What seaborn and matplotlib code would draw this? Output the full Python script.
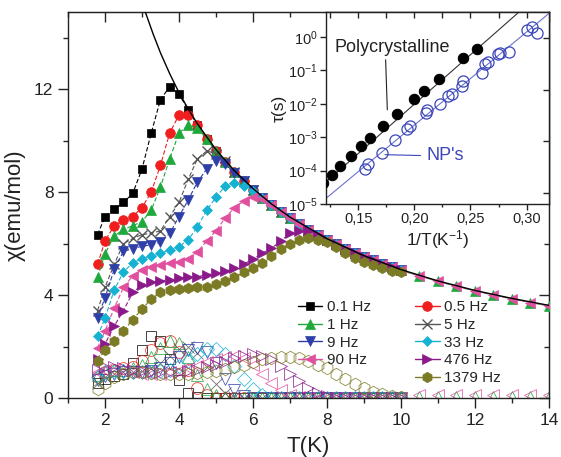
import matplotlib
matplotlib.use("Agg")
import matplotlib.pyplot as plt
import seaborn as sns
import numpy as np
from matplotlib.lines import Line2D
from matplotlib.ticker import MultipleLocator, FixedLocator, NullFormatter, LogLocator

sns.set_style("ticks")
plt.rcParams['font.family'] = ['Liberation Sans', 'DejaVu Sans']
plt.rcParams['mathtext.fontset'] = 'custom'
plt.rcParams['mathtext.rm'] = 'Liberation Sans'
plt.rcParams['mathtext.it'] = 'Liberation Sans:italic'

# ---------------- data ----------------
freq_labels = ["0.1 Hz", "0.5 Hz", "1 Hz", "5 Hz", "9 Hz", "33 Hz", "90 Hz", "476 Hz", "1379 Hz"]

T_common = [1.8, 2.0, 2.25, 2.5, 2.75, 3.0, 3.25, 3.5, 3.75, 4.0, 4.25, 4.5, 4.75, 5.0, 5.25, 5.5,
            5.75, 6.0, 6.25, 6.5, 6.75, 7.0, 7.25, 7.5, 7.75, 8.0, 8.25, 8.5, 8.75, 9.0, 9.25, 9.5,
            9.75, 10.0]
T_ext = [1.8, 2.0, 2.25, 2.5, 2.75, 3.0, 3.25, 3.5, 3.75, 4.0, 4.25, 4.5, 4.75, 5.0, 5.25, 5.5,
         5.75, 6.0, 6.25, 6.5, 6.75, 7.0, 7.25, 7.5, 7.75, 8.0, 8.25, 8.5, 8.75, 9.0, 9.25, 9.5,
         9.75, 10.0, 10.5, 11.0, 11.5, 12.0, 12.5, 13.0, 13.5, 14.0]

# chi' (in-phase), filled symbols
chi1_01 = [6.35, 7.05, 7.35, 7.6, 7.95, 8.9, 10.3, 11.6, 12.1, 11.8, 11.2, 10.6, 10.08, 9.6, 9.18, 8.78,
           8.42, 8.09, 7.78, 7.5, 7.24, 6.99, 6.76, 6.54, 6.34, 6.15, 5.97, 5.8, 5.64, 5.49, 5.35, 5.22,
           5.09, 4.96]
chi1_05 = [5.2, 6.1, 6.7, 6.9, 7.05, 7.4, 8.0, 9.05, 10.3, 11.0, 11.0, 10.6, 10.08, 9.6, 9.18, 8.78,
           8.42, 8.09, 7.78, 7.5, 7.24, 6.99, 6.76, 6.54, 6.34, 6.15, 5.97, 5.8, 5.64, 5.49, 5.35, 5.22,
           5.09, 4.96]
chi1_1 = [4.7, 5.6, 6.3, 6.55, 6.7, 6.85, 7.3, 8.2, 9.3, 10.3, 10.6, 10.5, 10.05, 9.6, 9.18, 8.78,
          8.42, 8.09, 7.78, 7.5, 7.24, 6.99, 6.76, 6.54, 6.34, 6.15, 5.97, 5.8, 5.64, 5.49, 5.35, 5.22,
          5.09, 4.96, 4.74, 4.53, 4.34, 4.16, 4.0, 3.85, 3.71, 3.58]
chi1_5 = [3.4, 4.3, 5.2, 6.0, 6.2, 6.35, 6.4, 6.5, 7.05, 7.6, 8.5, 9.3, 9.6, 9.5, 9.2, 8.78,
          8.42, 8.09, 7.78, 7.5, 7.24, 6.99, 6.76, 6.54, 6.34, 6.15, 5.97, 5.8, 5.64, 5.49, 5.35, 5.22,
          5.09, 4.96]
chi1_9 = [3.1, 3.9, 5.0, 5.7, 5.8, 5.9, 5.95, 6.05, 6.4, 7.05, 7.7, 8.4, 8.9, 9.2, 9.1, 8.75,
          8.42, 8.09, 7.78, 7.5, 7.24, 6.99, 6.76, 6.54, 6.34, 6.15, 5.97, 5.8, 5.64, 5.49, 5.35, 5.22,
          5.09, 4.96]
chi1_33 = [2.4, 3.1, 4.2, 4.9, 5.25, 5.42, 5.5, 5.62, 5.75, 5.88, 6.15, 6.65, 7.3, 7.8, 8.25, 8.35,
           8.25, 8.05, 7.78, 7.5, 7.24, 6.99, 6.76, 6.54, 6.34, 6.15, 5.97, 5.8, 5.64, 5.49, 5.35, 5.22,
           5.09, 4.96]
chi1_90 = [1.95, 2.6, 3.5, 4.3, 4.75, 4.97, 5.1, 5.17, 5.23, 5.29, 5.42, 5.68, 6.1, 6.5, 7.0, 7.4,
           7.65, 7.8, 7.75, 7.5, 7.24, 6.99, 6.76, 6.54, 6.34, 6.15, 5.97, 5.8, 5.64, 5.49, 5.35, 5.22,
           5.09, 4.96, 4.74, 4.53, 4.34, 4.16, 4.0, 3.85, 3.71, 3.58]
chi1_476 = [1.5, 2.1, 2.8, 3.4, 4.1, 4.4, 4.5, 4.55, 4.6, 4.65, 4.7, 4.72, 4.78, 4.85, 4.92, 5.05,
            5.2, 5.4, 5.62, 5.82, 6.1, 6.4, 6.5, 6.48, 6.34, 6.15, 5.97, 5.8, 5.64, 5.49, 5.35, 5.22,
            5.09, 4.96]
chi1_1379 = [1.45, 1.85, 2.2, 2.6, 3.05, 3.45, 3.85, 4.1, 4.2, 4.25, 4.27, 4.3, 4.33, 4.42, 4.55, 4.7,
             4.88, 5.05, 5.25, 5.5, 5.8, 6.0, 6.15, 6.2, 6.15, 6.05, 5.85, 5.65, 5.45, 5.3, 5.18, 5.05,
             4.95, 4.88]

# chi'' (out-of-phase), open symbols
chi2_01 = [0.6, 0.75, 0.85, 0.95, 1.35, 1.85, 2.4, 2.2, 1.5, 0.7, 0.2, 0.05, 0, 0, 0, 0,
           0, 0, 0, 0, 0, 0, 0, 0, 0, 0, 0, 0, 0, 0, 0, 0, 0, 0]
chi2_05 = [0.8, 1.0, 1.1, 1.15, 1.2, 1.45, 1.85, 2.15, 2.2, 1.8, 1.1, 0.4, 0.1, 0, 0, 0,
           0, 0, 0, 0, 0, 0, 0, 0, 0, 0, 0, 0, 0, 0, 0, 0, 0, 0]
chi2_1 = [0.9, 1.05, 1.1, 1.1, 1.15, 1.3, 1.6, 1.95, 2.2, 2.15, 1.6, 0.9, 0.35, 0.1, 0.02, 0,
          0, 0, 0, 0, 0, 0, 0, 0, 0, 0, 0, 0, 0, 0, 0, 0, 0, 0,
          0.05, 0.05, 0.05, 0.05, 0.05, 0.05, 0.05, 0.05]
chi2_5 = [0.6, 0.8, 0.95, 1.0, 1.0, 1.05, 1.15, 1.35, 1.65, 1.9, 2.0, 1.75, 1.2, 0.55, 0.2, 0.05,
          0, 0, 0, 0, 0, 0, 0, 0, 0, 0, 0, 0, 0, 0, 0, 0, 0, 0]
chi2_9 = [0.7, 0.85, 0.95, 1.0, 1.0, 1.0, 1.05, 1.15, 1.35, 1.6, 1.85, 1.95, 1.8, 1.35, 0.75, 0.3,
          0.08, 0, 0, 0, 0, 0, 0, 0, 0, 0, 0, 0, 0, 0, 0, 0, 0, 0]
chi2_33 = [0.8, 1.0, 1.05, 1.05, 1.0, 1.0, 1.0, 1.05, 1.1, 1.25, 1.45, 1.7, 1.9, 1.9, 1.7, 1.25,
           0.75, 0.35, 0.1, 0, 0, 0, 0, 0, 0, 0, 0, 0, 0, 0, 0, 0, 0, 0]
chi2_90 = [1.0, 1.1, 1.1, 1.05, 1.0, 0.95, 0.95, 0.95, 1.0, 1.05, 1.15, 1.25, 1.4, 1.5, 1.6, 1.65,
           1.55, 1.3, 0.95, 0.6, 0.3, 0.12, 0.05, 0, 0, 0, 0, 0, 0, 0, 0, 0, 0, 0,
           0.1, 0.1, 0.1, 0.1, 0.1, 0.1, 0.1, 0.1]
chi2_476 = [1.1, 1.2, 1.2, 1.15, 1.1, 1.05, 1.0, 1.0, 1.0, 1.0, 1.05, 1.1, 1.2, 1.3, 1.4, 1.55,
            1.65, 1.7, 1.65, 1.5, 1.25, 0.95, 0.65, 0.4, 0.2, 0.08, 0, 0, 0, 0, 0, 0, 0, 0]
chi2_1379 = [0.35, 0.6, 0.8, 0.95, 1.0, 1.0, 0.98, 0.95, 0.95, 0.95, 0.95, 0.97, 1.0, 1.05, 1.12, 1.2,
             1.3, 1.4, 1.5, 1.55, 1.58, 1.58, 1.55, 1.45, 1.3, 1.15, 0.95, 0.75, 0.55, 0.4, 0.25, 0.15,
             0.07, 0.03]

# Curie-Weiss type fit curve (solid black)
T_fit = [3.09, 3.3, 3.5, 3.75, 4.0, 4.25, 4.5, 5.0, 5.5, 6.0, 6.5, 7.0, 8.0, 9.0, 10.0, 11.0, 12.0, 13.0, 14.0]
chi_fit = [15.0, 14.15, 13.41, 12.6, 11.87, 11.23, 10.65, 9.65, 8.83, 8.14, 7.54, 7.03, 6.19, 5.53, 4.99,
           4.55, 4.18, 3.87, 3.6]

# Inset: relaxation time vs 1/T
poly_invT = [0.1188, 0.1263, 0.1337, 0.1432, 0.1521, 0.1604, 0.1723, 0.1842, 0.1996, 0.2086, 0.2224,
             0.2430, 0.2555]
poly_tau = [4.3e-5, 7.2e-5, 1.35e-4, 2.8e-4, 5.4e-4, 9.5e-4, 2.1e-3, 4.9e-3, 1.4e-2, 2.45e-2, 5.6e-2,
            0.23, 0.44]
np_invT = [0.1560, 0.1589, 0.1709, 0.1827, 0.1931, 0.1961, 0.2103, 0.2109, 0.2228, 0.2302, 0.2332,
           0.2421, 0.2436, 0.2600, 0.2629, 0.2659, 0.2748, 0.2763, 0.2846, 0.3001, 0.3045, 0.3090]
np_tau = [1.1e-4, 1.6e-4, 3.4e-4, 8.5e-4, 1.8e-3, 2.2e-3, 5.2e-3, 6.6e-3, 9.8e-3, 1.74e-2, 2.0e-2,
          3.5e-2, 4.7e-2, 8.3e-2, 0.155, 0.174, 0.31, 0.34, 0.36, 1.62, 1.95, 1.35]
poly_line_invT = [0.120, 0.293]
poly_line_tau = [4.2e-5, 5.5]
np_line_invT = [0.121, 0.320]
np_line_tau = [1.45e-5, 5.1]
inset_xticklabels = ["0,15", "0,20", "0,25", "0,30"]

# ---------------- styles ----------------
colors = ["#000000", "#f01e1e", "#1fa83c", "#555555", "#2f3fa8", "#16b2d2", "#e0509f", "#8a1a8a", "#7b7b25"]
markers = ["s", "o", "^", "x", "v", "D", "<", ">", "h"]
msizes = [5.5, 7, 7.5, 7, 7.5, 5.5, 7.5, 7.5, 7.5]

chi1 = [chi1_01, chi1_05, chi1_1, chi1_5, chi1_9, chi1_33, chi1_90, chi1_476, chi1_1379]
chi2 = [chi2_01, chi2_05, chi2_1, chi2_5, chi2_9, chi2_33, chi2_90, chi2_476, chi2_1379]

fig = plt.figure(figsize=(5.61, 4.57), dpi=100)
ax = fig.add_axes([0.1212, 0.1291, 0.8574, 0.8446])

# out-of-phase (open symbols)
for i in range(9):
    T = T_ext if len(chi2[i]) == len(T_ext) else T_common
    sns.lineplot(x=T, y=chi2[i], ax=ax, sort=False, errorbar=None, legend=False,
                 color=colors[i], linestyle="none", marker=markers[i],
                 markersize=msizes[i] + 1.5, markerfacecolor="none",
                 markeredgecolor=colors[i], markeredgewidth=0.6, alpha=0.85, zorder=2)

# in-phase (filled symbols, dashed connection)
for i in range(9):
    T = T_ext if len(chi1[i]) == len(T_ext) else T_common
    sns.lineplot(x=T, y=chi1[i], ax=ax, sort=False, errorbar=None, legend=False,
                 color=colors[i], linestyle=(0, (4, 2)), linewidth=0.8, marker=markers[i],
                 markersize=msizes[i], markerfacecolor=colors[i], markeredgecolor=colors[i],
                 markeredgewidth=1.0 if markers[i] == "x" else 0.5, zorder=3 + i)

sns.lineplot(x=T_fit, y=chi_fit, ax=ax, sort=False, errorbar=None, legend=False,
             color="black", linewidth=1.0, zorder=20)

ax.set_xlim(1, 14)
ax.set_ylim(0, 15)
ax.xaxis.set_major_locator(MultipleLocator(2))
ax.xaxis.set_minor_locator(MultipleLocator(1))
ax.yaxis.set_major_locator(FixedLocator([0, 4, 8, 12]))
ax.yaxis.set_minor_locator(FixedLocator([2, 6, 10, 14]))
ax.tick_params(which="major", direction="out", length=7, width=1, labelsize=12.5, colors="#222222")
ax.tick_params(which="minor", direction="out", length=3.5, width=1)
for s in ax.spines.values():
    s.set_linewidth(1.0)
    s.set_color("#222222")

secx = ax.secondary_xaxis("top")
secx.xaxis.set_major_locator(MultipleLocator(2))
secx.xaxis.set_minor_locator(MultipleLocator(1))
secx.tick_params(which="major", direction="in", length=7, width=1, labelsize=0, labeltop=False)
secx.tick_params(which="minor", direction="in", length=3.5, width=1)
secx.xaxis.set_major_formatter(NullFormatter())
secy = ax.secondary_yaxis("right")
secy.yaxis.set_major_locator(FixedLocator([0, 4, 8, 12]))
secy.yaxis.set_minor_locator(FixedLocator([2, 6, 10, 14]))
secy.tick_params(which="major", direction="in", length=7, width=1, labelright=False)
secy.tick_params(which="minor", direction="in", length=3.5, width=1)
secy.yaxis.set_major_formatter(NullFormatter())

ax.set_xlabel("T(K)", fontsize=16, labelpad=6, color="#222222")
ax.set_ylabel("χ(emu/mol)", fontsize=16, labelpad=6, color="#222222")

# legend (two columns, filled row-wise)
handles = []
for i in range(9):
    handles.append(Line2D([], [], color=colors[i], marker=markers[i], markersize=msizes[i],
                          markerfacecolor=colors[i], markeredgecolor=colors[i], linewidth=1.0,
                          markeredgewidth=1.0 if markers[i] == "x" else 0.5))
blank = Line2D([], [], linestyle="none", marker=None)
order = [0, 2, 4, 6, None, 1, 3, 5, 7, 8]
leg_h = [handles[k] if k is not None else blank for k in order]
leg_l = [freq_labels[k] if k is not None else "" for k in order]
ax.legend(leg_h, leg_l, loc="upper left", bbox_to_anchor=(0.478, 0.253), ncol=2, frameon=False,
          fontsize=11, handlelength=1.6, handletextpad=0.3, labelspacing=0.24, columnspacing=2.9,
          borderpad=0, borderaxespad=0)

# ---------------- inset ----------------
axin = fig.add_axes([0.5806, 0.5536, 0.3980, 0.4195])
axin.set_facecolor("white")
blue = "#3b46b8"
sns.lineplot(x=poly_line_invT, y=poly_line_tau, ax=axin, color="#333333", linewidth=0.8,
             errorbar=None, legend=False)
sns.lineplot(x=np_line_invT, y=np_line_tau, ax=axin, color="#6a72d0", linewidth=0.8,
             errorbar=None, legend=False)
sns.lineplot(x=poly_invT, y=poly_tau, ax=axin, sort=False, errorbar=None, legend=False,
             linestyle="none", marker="o", markersize=7.5, color="black",
             markerfacecolor="black", markeredgecolor="black", zorder=5)
sns.lineplot(x=np_invT, y=np_tau, ax=axin, sort=False, errorbar=None, legend=False,
             linestyle="none", marker="o", markersize=8, color=blue,
             markerfacecolor="none", markeredgecolor=blue, markeredgewidth=0.9, zorder=5)
axin.set_yscale("log")
axin.set_xlim(0.121, 0.32)
axin.set_ylim(1e-5, 5.5)
axin.yaxis.set_major_locator(LogLocator(base=10, numticks=10))
axin.yaxis.set_minor_locator(FixedLocator([]))
axin.xaxis.set_major_locator(FixedLocator([0.15, 0.20, 0.25, 0.30]))
axin.set_xticklabels(inset_xticklabels)
axin.xaxis.set_minor_locator(FixedLocator([0.125, 0.175, 0.225, 0.275]))
axin.tick_params(which="major", direction="out", length=4, width=1, labelsize=10.5, pad=2,
                 colors="#222222")
axin.tick_params(which="minor", direction="out", length=2.5, width=1)
for s in axin.spines.values():
    s.set_linewidth(1.0)
    s.set_color("#222222")
itop = axin.secondary_xaxis("top")
itop.xaxis.set_major_locator(FixedLocator([0.125, 0.15, 0.175, 0.20, 0.225, 0.25, 0.275, 0.30]))
itop.xaxis.set_major_formatter(NullFormatter())
itop.tick_params(direction="in", length=4, width=1)
iright = axin.secondary_yaxis("right")
iright.yaxis.set_major_locator(FixedLocator([0.91, 0.026, 7.9e-4, 2.1e-5]))
iright.yaxis.set_minor_locator(FixedLocator([]))
iright.yaxis.set_major_formatter(NullFormatter())
iright.tick_params(direction="in", length=4, width=1)
axin.set_xlabel("1/T(K$^{-1}$)", fontsize=12.5, labelpad=1, color="#222222")
axin.set_ylabel("τ(s)", fontsize=12.5, labelpad=1, color="#222222")

axin.annotate("Polycrystalline", xy=(0.1759, 6.6e-3), xytext=(0.129, 0.47), fontsize=13,
              color="#222222", va="center", ha="left",
              arrowprops=dict(arrowstyle="-", color="#222222", lw=0.8,
                              shrinkA=0, shrinkB=0, relpos=(0.44, 0.0)))
axin.annotate("NP's", xy=(0.1738, 3.0e-4), xytext=(0.2109, 2.8e-4), fontsize=13,
              color=blue, va="center", ha="left",
              arrowprops=dict(arrowstyle="-", color=blue, lw=0.8,
                              shrinkA=2, shrinkB=0, relpos=(0.0, 0.5)))

fig.savefig("out.png", dpi=100)
